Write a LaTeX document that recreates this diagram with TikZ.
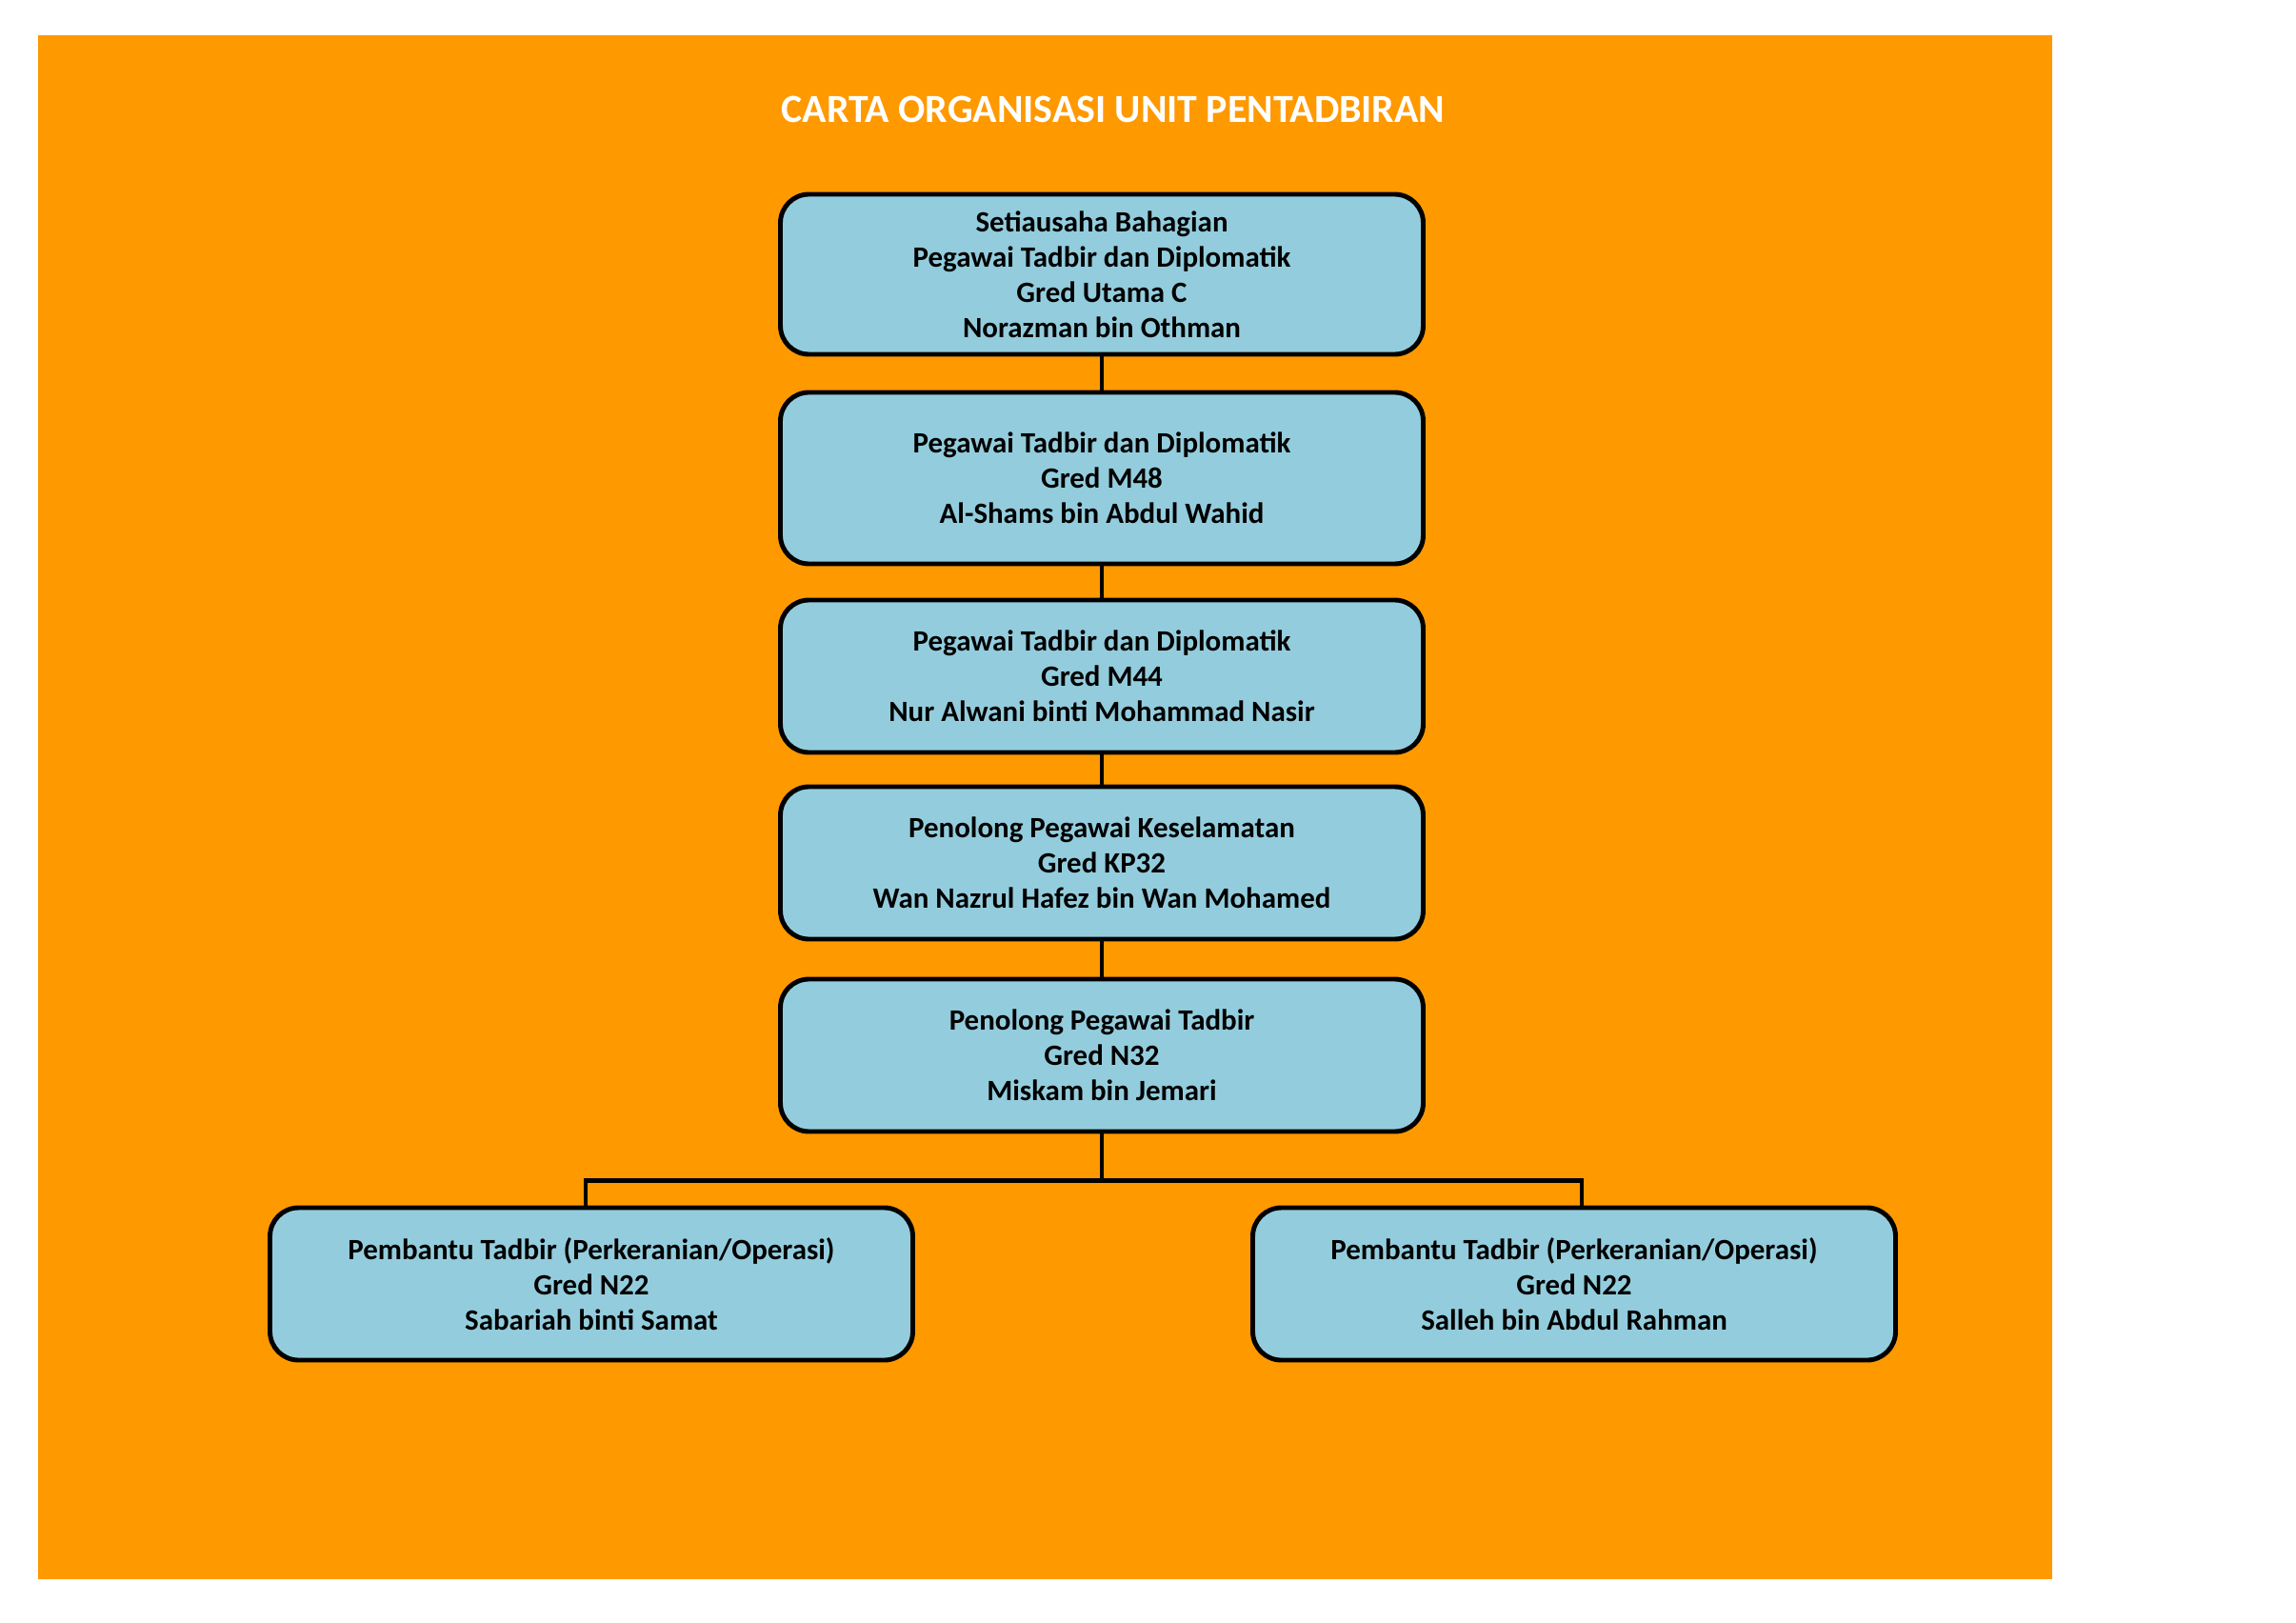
\documentclass[tikz,border=0pt]{standalone}
\usepackage{fontspec}
\setmainfont{Carlito}
\usepackage{tikz}
\usetikzlibrary{calc,positioning}
\definecolor{oren}{HTML}{FF9900}
\definecolor{biru}{HTML}{93CDDD}
\tikzset{
node distance=2cm, % default gap between the boxes
jawatan/.style={draw=black, line width=1.4pt, fill=biru, rounded corners=0.3cm,
  minimum width=6.75cm, minimum height=1.6cm, align=center,
  font=\bfseries\fontsize{8.8}{10.5}\selectfont},
garis/.style={line width=0.9pt},
}

\begin{document}
\begin{tikzpicture}[on grid,auto]
   \useasboundingbox (0,0) rectangle (24.11,-17.04);
   \fill[oren] (0.40,-0.37) rectangle (21.55,-16.58);
   \node[text=white,font=\bfseries\fontsize{11.9}{13}\selectfont] (tajuk) at (11.69,-1.15) {CARTA ORGANISASI UNIT PENTADBIRAN};
   \node[jawatan,minimum height=1.68cm] (p_0) at (11.57,-2.88) {Setiausaha Bahagian\\Pegawai Tadbir dan Diplomatik\\Gred Utama C\\Norazman bin Othman};
   \node[jawatan,minimum height=1.8cm] (p_1) [below=2.14cm of p_0] {Pegawai Tadbir dan Diplomatik\\Gred M48\\Al-Shams bin Abdul Wahid};
   \node[jawatan] (p_2) [below=2.08cm of p_1] {Pegawai Tadbir dan Diplomatik\\Gred M44\\Nur Alwani binti Mohammad Nasir};
   \node[jawatan] (p_3) [below=1.96cm of p_2] {Penolong Pegawai Keselamatan\\Gred KP32\\Wan Nazrul Hafez bin Wan Mohamed};
   \node[jawatan] (p_4) [below=2.02cm of p_3] {Penolong Pegawai Tadbir\\Gred N32\\Miskam bin Jemari};
   \node[jawatan] (p_5) [below left=2.4cm and 5.36cm of p_4] {Pembantu Tadbir (Perkeranian/Operasi)\\Gred N22\\Sabariah binti Samat};
   \node[jawatan] (p_6) [below right=2.4cm and 4.96cm of p_4] {Pembantu Tadbir (Perkeranian/Operasi)\\Gred N22\\Salleh bin Abdul Rahman};
   \coordinate (simpang) at ([yshift=-0.49cm]p_4.south);
    \path[garis]
    (p_0) edge (p_1)
    (p_1) edge (p_2)
    (p_2) edge (p_3)
    (p_3) edge (p_4)
    (p_4) edge (simpang);
   \draw[line width=1.2pt] ([xshift=-0.06cm]p_5.north) |- (simpang) -| ([xshift=0.08cm]p_6.north);
\end{tikzpicture}
\end{document}
